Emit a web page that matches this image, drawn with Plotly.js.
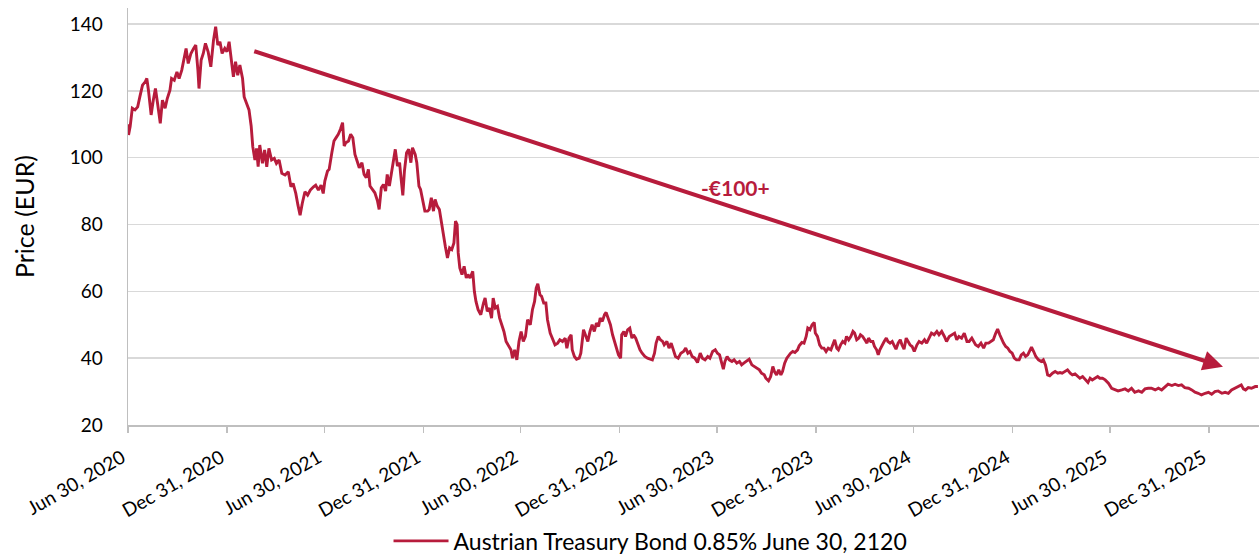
<!DOCTYPE html>
<html>
<head>
<meta charset="utf-8">
<script src="https://cdn.plot.ly/plotly-3.0.1.min.js"></script>
<style>
html,body{margin:0;padding:0;background:#fff;}
#chart{width:1259px;height:558px;}
</style>
</head>
<body>
<div id="chart"></div>
<script>
// ---- Data ----
const seriesName = 'Austrian Treasury Bond 0.85% June 30, 2120';

const dates = [
'2020-06-30','2020-07-01','2020-07-04','2020-07-08','2020-07-13','2020-07-18','2020-07-22','2020-07-27','2020-08-01','2020-08-04',
'2020-08-07','2020-08-12','2020-08-16','2020-08-20','2020-08-24','2020-08-29','2020-09-02','2020-09-07','2020-09-11','2020-09-16',
'2020-09-19','2020-09-24','2020-09-29','2020-10-03','2020-10-08','2020-10-13','2020-10-16','2020-10-20','2020-10-25','2020-10-30',
'2020-11-03','2020-11-07','2020-11-09','2020-11-13','2020-11-17','2020-11-21','2020-11-26','2020-12-01','2020-12-06','2020-12-10',
'2020-12-14','2020-12-18','2020-12-22','2020-12-27','2020-12-31','2021-01-04','2021-01-08','2021-01-12','2021-01-16','2021-01-20',
'2021-01-24','2021-01-29','2021-02-01','2021-02-06','2021-02-10','2021-02-14','2021-02-17','2021-02-21','2021-02-24','2021-02-27',
'2021-03-02','2021-03-07','2021-03-11','2021-03-15','2021-03-19','2021-03-24','2021-03-29','2021-04-02','2021-04-07','2021-04-12',
'2021-04-18','2021-04-24','2021-04-29','2021-05-03','2021-05-08','2021-05-12','2021-05-16','2021-05-20','2021-05-25','2021-05-30',
'2021-06-04','2021-06-10','2021-06-14','2021-06-19','2021-06-24','2021-06-28',
'2021-07-01','2021-07-06','2021-07-09','2021-07-14','2021-07-18','2021-07-22','2021-07-26','2021-07-30','2021-08-03','2021-08-06',
'2021-08-09','2021-08-14','2021-08-18','2021-08-22','2021-08-26','2021-08-30','2021-09-03','2021-09-08','2021-09-12','2021-09-16',
'2021-09-20','2021-09-23','2021-09-28','2021-10-02','2021-10-07','2021-10-10','2021-10-14','2021-10-18','2021-10-22','2021-10-25',
'2021-10-29','2021-11-02','2021-11-05','2021-11-09','2021-11-13','2021-11-17','2021-11-19','2021-11-23','2021-11-26','2021-11-30',
'2021-12-04','2021-12-08','2021-12-11','2021-12-16','2021-12-19','2021-12-23','2021-12-26','2021-12-30','2022-01-03','2022-01-08',
'2022-01-11','2022-01-15','2022-01-19','2022-01-22','2022-01-26','2022-01-30','2022-02-03','2022-02-06','2022-02-10','2022-02-14',
'2022-02-18','2022-02-22','2022-02-26','2022-03-01','2022-03-04','2022-03-06','2022-03-09','2022-03-13','2022-03-17','2022-03-21',
'2022-03-24','2022-03-28','2022-04-02','2022-04-05','2022-04-08','2022-04-12','2022-04-17','2022-04-22','2022-04-25','2022-04-29',
'2022-05-03','2022-05-07','2022-05-10','2022-05-14','2022-05-18','2022-05-22','2022-05-26','2022-05-30','2022-06-03','2022-06-07',
'2022-06-12','2022-06-15','2022-06-19','2022-06-23',
'2022-06-27','2022-07-01','2022-07-05','2022-07-09','2022-07-13','2022-07-18','2022-07-22','2022-07-26','2022-07-29','2022-08-01',
'2022-08-05','2022-08-08','2022-08-12','2022-08-16','2022-08-19','2022-08-24','2022-08-28','2022-09-02','2022-09-07','2022-09-11',
'2022-09-16','2022-09-21','2022-09-24','2022-09-28','2022-10-02','2022-10-04','2022-10-08','2022-10-12','2022-10-17','2022-10-20',
'2022-10-25','2022-10-29','2022-11-02','2022-11-06','2022-11-10','2022-11-14','2022-11-18','2022-11-22','2022-11-25','2022-11-29',
'2022-12-03','2022-12-06','2022-12-10','2022-12-14','2022-12-18','2022-12-21','2022-12-25','2022-12-29','2023-01-02','2023-01-04',
'2023-01-08','2023-01-11','2023-01-15','2023-01-19','2023-01-23','2023-01-26','2023-01-30','2023-02-03','2023-02-07','2023-02-11',
'2023-02-16','2023-02-21','2023-02-26','2023-03-02','2023-03-06','2023-03-09','2023-03-13','2023-03-17','2023-03-21','2023-03-24',
'2023-03-29','2023-04-02','2023-04-06','2023-04-10','2023-04-14','2023-04-19','2023-04-24','2023-04-29','2023-05-03','2023-05-07',
'2023-05-11','2023-05-15','2023-05-20','2023-05-25','2023-05-30','2023-06-03','2023-06-08','2023-06-13','2023-06-17','2023-06-22',
'2023-06-27','2023-07-01','2023-07-05',
'2023-07-09','2023-07-12','2023-07-15','2023-07-19','2023-07-23','2023-07-28','2023-08-01','2023-08-06','2023-08-11','2023-08-15',
'2023-08-19','2023-08-24','2023-08-29','2023-09-03','2023-09-07','2023-09-12','2023-09-17','2023-09-21','2023-09-26','2023-09-29',
'2023-10-04','2023-10-08','2023-10-12','2023-10-15','2023-10-19','2023-10-23','2023-10-27','2023-10-30','2023-11-03','2023-11-07',
'2023-11-11','2023-11-14','2023-11-18','2023-11-22','2023-11-27','2023-11-30','2023-12-05','2023-12-09','2023-12-13','2023-12-16',
'2023-12-20','2023-12-24','2023-12-28','2023-12-30','2024-01-03','2024-01-07','2024-01-11','2024-01-15','2024-01-19','2024-01-23',
'2024-01-28','2024-01-31','2024-02-04','2024-02-08','2024-02-11','2024-02-15','2024-02-19','2024-02-23','2024-02-26','2024-03-01',
'2024-03-05','2024-03-09','2024-03-12','2024-03-16','2024-03-20','2024-03-23','2024-03-27','2024-03-31','2024-04-04','2024-04-07',
'2024-04-11','2024-04-15','2024-04-18','2024-04-22','2024-04-25','2024-04-28','2024-05-02','2024-05-06','2024-05-10','2024-05-13',
'2024-05-17','2024-05-21','2024-05-24','2024-05-28','2024-06-01','2024-06-05','2024-06-08','2024-06-12','2024-06-16','2024-06-19',
'2024-06-23','2024-06-27',
'2024-07-01','2024-07-06','2024-07-10','2024-07-15','2024-07-20','2024-07-24','2024-07-28','2024-08-02','2024-08-07','2024-08-12',
'2024-08-16','2024-08-21','2024-08-26','2024-08-30','2024-09-04','2024-09-09','2024-09-14','2024-09-18','2024-09-22','2024-09-27',
'2024-10-02','2024-10-07','2024-10-11','2024-10-16','2024-10-20','2024-10-23','2024-10-28','2024-11-02','2024-11-07','2024-11-11',
'2024-11-16','2024-11-21','2024-11-25','2024-11-29','2024-12-03','2024-12-07','2024-12-11','2024-12-14','2024-12-18','2024-12-22',
'2024-12-26','2024-12-30','2025-01-03','2025-01-07','2025-01-12','2025-01-16','2025-01-20','2025-01-24','2025-01-28','2025-02-01',
'2025-02-04','2025-02-08','2025-02-12','2025-02-17','2025-02-22','2025-02-26','2025-03-02','2025-03-06','2025-03-10','2025-03-15',
'2025-03-20','2025-03-25','2025-03-29','2025-04-02','2025-04-07','2025-04-12','2025-04-17','2025-04-21','2025-04-26','2025-05-01',
'2025-05-05','2025-05-10','2025-05-15','2025-05-20','2025-05-24','2025-05-28','2025-06-02','2025-06-07','2025-06-11','2025-06-16',
'2025-06-21',
'2025-06-27','2025-07-03','2025-07-09','2025-07-15','2025-07-22','2025-07-28','2025-08-03','2025-08-09','2025-08-15','2025-08-22',
'2025-08-28','2025-09-03','2025-09-09','2025-09-15','2025-09-22','2025-09-28','2025-10-04','2025-10-10','2025-10-16','2025-10-23',
'2025-10-29','2025-11-04','2025-11-10','2025-11-16','2025-11-23','2025-11-29','2025-12-05','2025-12-11','2025-12-17','2025-12-24',
'2025-12-30','2026-01-05','2026-01-11','2026-01-17','2026-01-24','2026-01-30','2026-02-05','2026-02-11','2026-02-17','2026-02-24',
'2026-03-01','2026-03-05','2026-03-09','2026-03-14','2026-03-20','2026-03-27','2026-04-01'
];

const prices = [
110,106.8,109.3,114.8,114.3,115.2,118.2,121.7,122.7,123.7,
120.2,112.8,117.2,120.7,116.2,110.3,117.2,114.8,117.7,120.2,
123.7,123.2,125.7,123.7,126.2,130.2,132.7,128.2,131.2,132.7,
133.7,126.2,120.7,129.2,131.2,134.2,131.7,127.2,135.2,139.2,
133.7,134.7,131.2,132.7,131.7,134.7,130.2,124.2,128.7,124.7,
127.7,123.7,118.2,115.7,114.3,109.5,103.3,99.3,102.8,97.3,
103.8,98.3,102.3,97.3,102.8,99.3,99.8,98.3,99.3,95.3,
94.8,95.8,91.3,92.3,89.3,85.8,82.8,86.3,89.8,88.8,
90.3,91.3,91.8,90.3,91.8,89.3,
93,96,96.5,101.5,105,106,107,108.5,110.5,103.5,
104.5,105,107,106,101,99,97,98.5,95,94,
96.5,91.5,90.5,89.5,87,84.5,91,92,90,95,
91.5,95.5,99.5,102.5,97.5,98.5,95,88.7,96,101.5,
102.5,98.5,103,101,98.5,91.5,90.5,87.5,84,84,
84.5,88,84,87.5,85.5,84.5,80.5,76.5,73.5,70,
73,72.5,74.5,81,80,71.5,67,65,67.5,64,
65,64,66,60,57,54.5,53,56.5,58,54,
55,52,58,55,55.5,52,50,48,45,44,
42.5,40,42.5,39.5,
45,48,45,46.5,51.5,50,54.5,57,61,62.3,
59,58.5,56.5,56.5,51.5,47.5,46,44,44.5,45.5,
45,46,43,46,47,42.5,40.5,39.7,40,41.5,
48.5,47,45,48,50,48,50.5,49.5,52,51,
53,53.7,52,50,47,45.5,43.5,41,40,47,
48,46.5,48.5,49,46,47,46,44,42.5,41.5,
40.5,40,39.7,39.5,41.5,44.5,46.5,45.5,45,44,
45,43,44.5,42.5,40.5,40,41.5,42,43,41.5,
42,40.5,40,38.7,41.5,40,39.5,40.5,40,42,
42.5,41.5,41,
38.5,36.7,39,40.5,39.5,39,39.5,38.5,39,38,
38.5,39,39.7,38,37.5,37,36.5,35.5,35,34,
33.2,34.5,37.5,36,35,36.5,35,36,38.5,40,
41,41.5,42,41.7,42.5,43.7,44.7,44.5,46.5,49,
48.5,50,50.7,47.5,46.5,44,43,43,42,43,
42.5,44,45.5,43,42.5,44,45,44.5,46.5,45.5,
46.5,48,47.5,45.5,46,47,46.5,45.5,44.5,46,
45,45,43.5,42.5,41,42.5,44,45,46,45,
44.5,45,44,42.7,44.5,45.5,44,42.7,46,45,
44,43.5,
42,44,45,44.5,45.5,44.5,46,47.5,47,48,
47,48,46.5,45,46.5,47,47.5,45.5,46.5,46,
47.5,45,45,46,45,44,43.5,44.5,43,44.5,
44.5,45,45.5,47.3,48.7,47,45.5,44.5,43.5,43,
42,41.5,40,39.5,39.5,41,41.5,40.5,41,42.5,
43.3,42,40.5,39.5,39,39.5,38,35,34.7,35.5,
36,35.5,35.7,35.5,36,36.5,35.5,35,35.3,34.5,
34,34.5,33.5,32.7,34,33.5,34,34.5,34,34,
33.5,
32.5,31,30.5,30.2,30.5,30.8,30.2,31,29.8,30.2,
29.8,30.8,31,31,30.5,31,30.5,31.5,32.2,31.8,
32.2,31.8,32,31.2,31,30.5,29.8,29.5,29,29.5,
29.8,29.2,30,30.2,29.5,29.8,29.5,30.5,31,31.5,
32,30.8,30.5,31.2,31,31.5,31.5
];

const tickDates = ['2020-06-30','2020-12-31','2021-06-30','2021-12-31','2022-06-30','2022-12-31',
                   '2023-06-30','2023-12-31','2024-06-30','2024-12-31','2025-06-30','2025-12-31'];
const tickLabels = ['Jun 30, 2020','Dec 31, 2020','Jun 30, 2021','Dec 31, 2021','Jun 30, 2022','Dec 31, 2022',
                    'Jun 30, 2023','Dec 31, 2023','Jun 30, 2024','Dec 31, 2024','Jun 30, 2025','Dec 31, 2025'];
const yTicks = [20, 40, 60, 80, 100, 120, 140];

const arrowFrom = ['2021-02-17', 132];
const arrowTo = ['2026-01-26', 37.4];
const labelText = '-€100+';
const labelAt = ['2023-08-04', 91.2];

// ---- Styling ----
const RED = '#B71C3C';
const FONT = 'Lato, "Open Sans", "Liberation Sans", sans-serif';

const trace = {
  x: dates, y: prices, type: 'scatter', mode: 'lines', name: seriesName,
  line: {color: RED, width: 2.9}, showlegend: true
};

const layout = {
  width: 1259, height: 558,
  margin: {l: 128, r: 0, t: 8, b: 133, autoexpand: false},
  paper_bgcolor: '#fff', plot_bgcolor: '#fff',
  font: {family: FONT, size: 19, color: '#000'},
  xaxis: {
    type: 'date', range: ['2020-06-30', '2026-04-03'], automargin: false,
    tickmode: 'array', tickvals: tickDates, ticktext: tickLabels, tickangle: -30,
    showgrid: false, zeroline: false,
    showline: true, linecolor: '#BFBFBF', linewidth: 1.5,
    ticks: 'outside', ticklen: 6, tickcolor: '#BFBFBF', tickwidth: 1.5,
    ticklabelstandoff: 7, ticklabelshift: -6,
    tickfont: {size: 19, family: FONT}, fixedrange: true
  },
  yaxis: {
    range: [20, 144.8], tickmode: 'array', tickvals: yTicks, automargin: false,
    showgrid: true, gridcolor: '#D9D9D9', gridwidth: 1.5, zeroline: false,
    showline: true, linecolor: '#BFBFBF', linewidth: 1.5,
    ticks: '', ticklabelstandoff: 20,
    tickfont: {size: 19, family: FONT},
    title: {text: 'Price (EUR)', font: {size: 25, family: FONT}, standoff: 28}
  },
  legend: {
    orientation: 'h', x: 0.462, xanchor: 'center', y: -0.278, yanchor: 'middle',
    itemwidth: 55,
    font: {size: 23, family: FONT}, bgcolor: 'rgba(0,0,0,0)'
  },
  annotations: [
    {
      x: arrowTo[0], y: arrowTo[1], xref: 'x', yref: 'y',
      ax: arrowFrom[0], ay: arrowFrom[1], axref: 'x', ayref: 'y',
      text: '', showarrow: true, arrowhead: 2, arrowsize: 1, arrowwidth: 4, arrowcolor: RED
    },
    {
      x: labelAt[0], y: labelAt[1], xref: 'x', yref: 'y',
      text: '<b>' + labelText + '</b>', showarrow: false,
      font: {size: 21, color: RED, family: FONT}
    }
  ]
};

Plotly.newPlot('chart', [trace], layout, {displayModeBar: false, staticPlot: true});
</script>
</body>
</html>
